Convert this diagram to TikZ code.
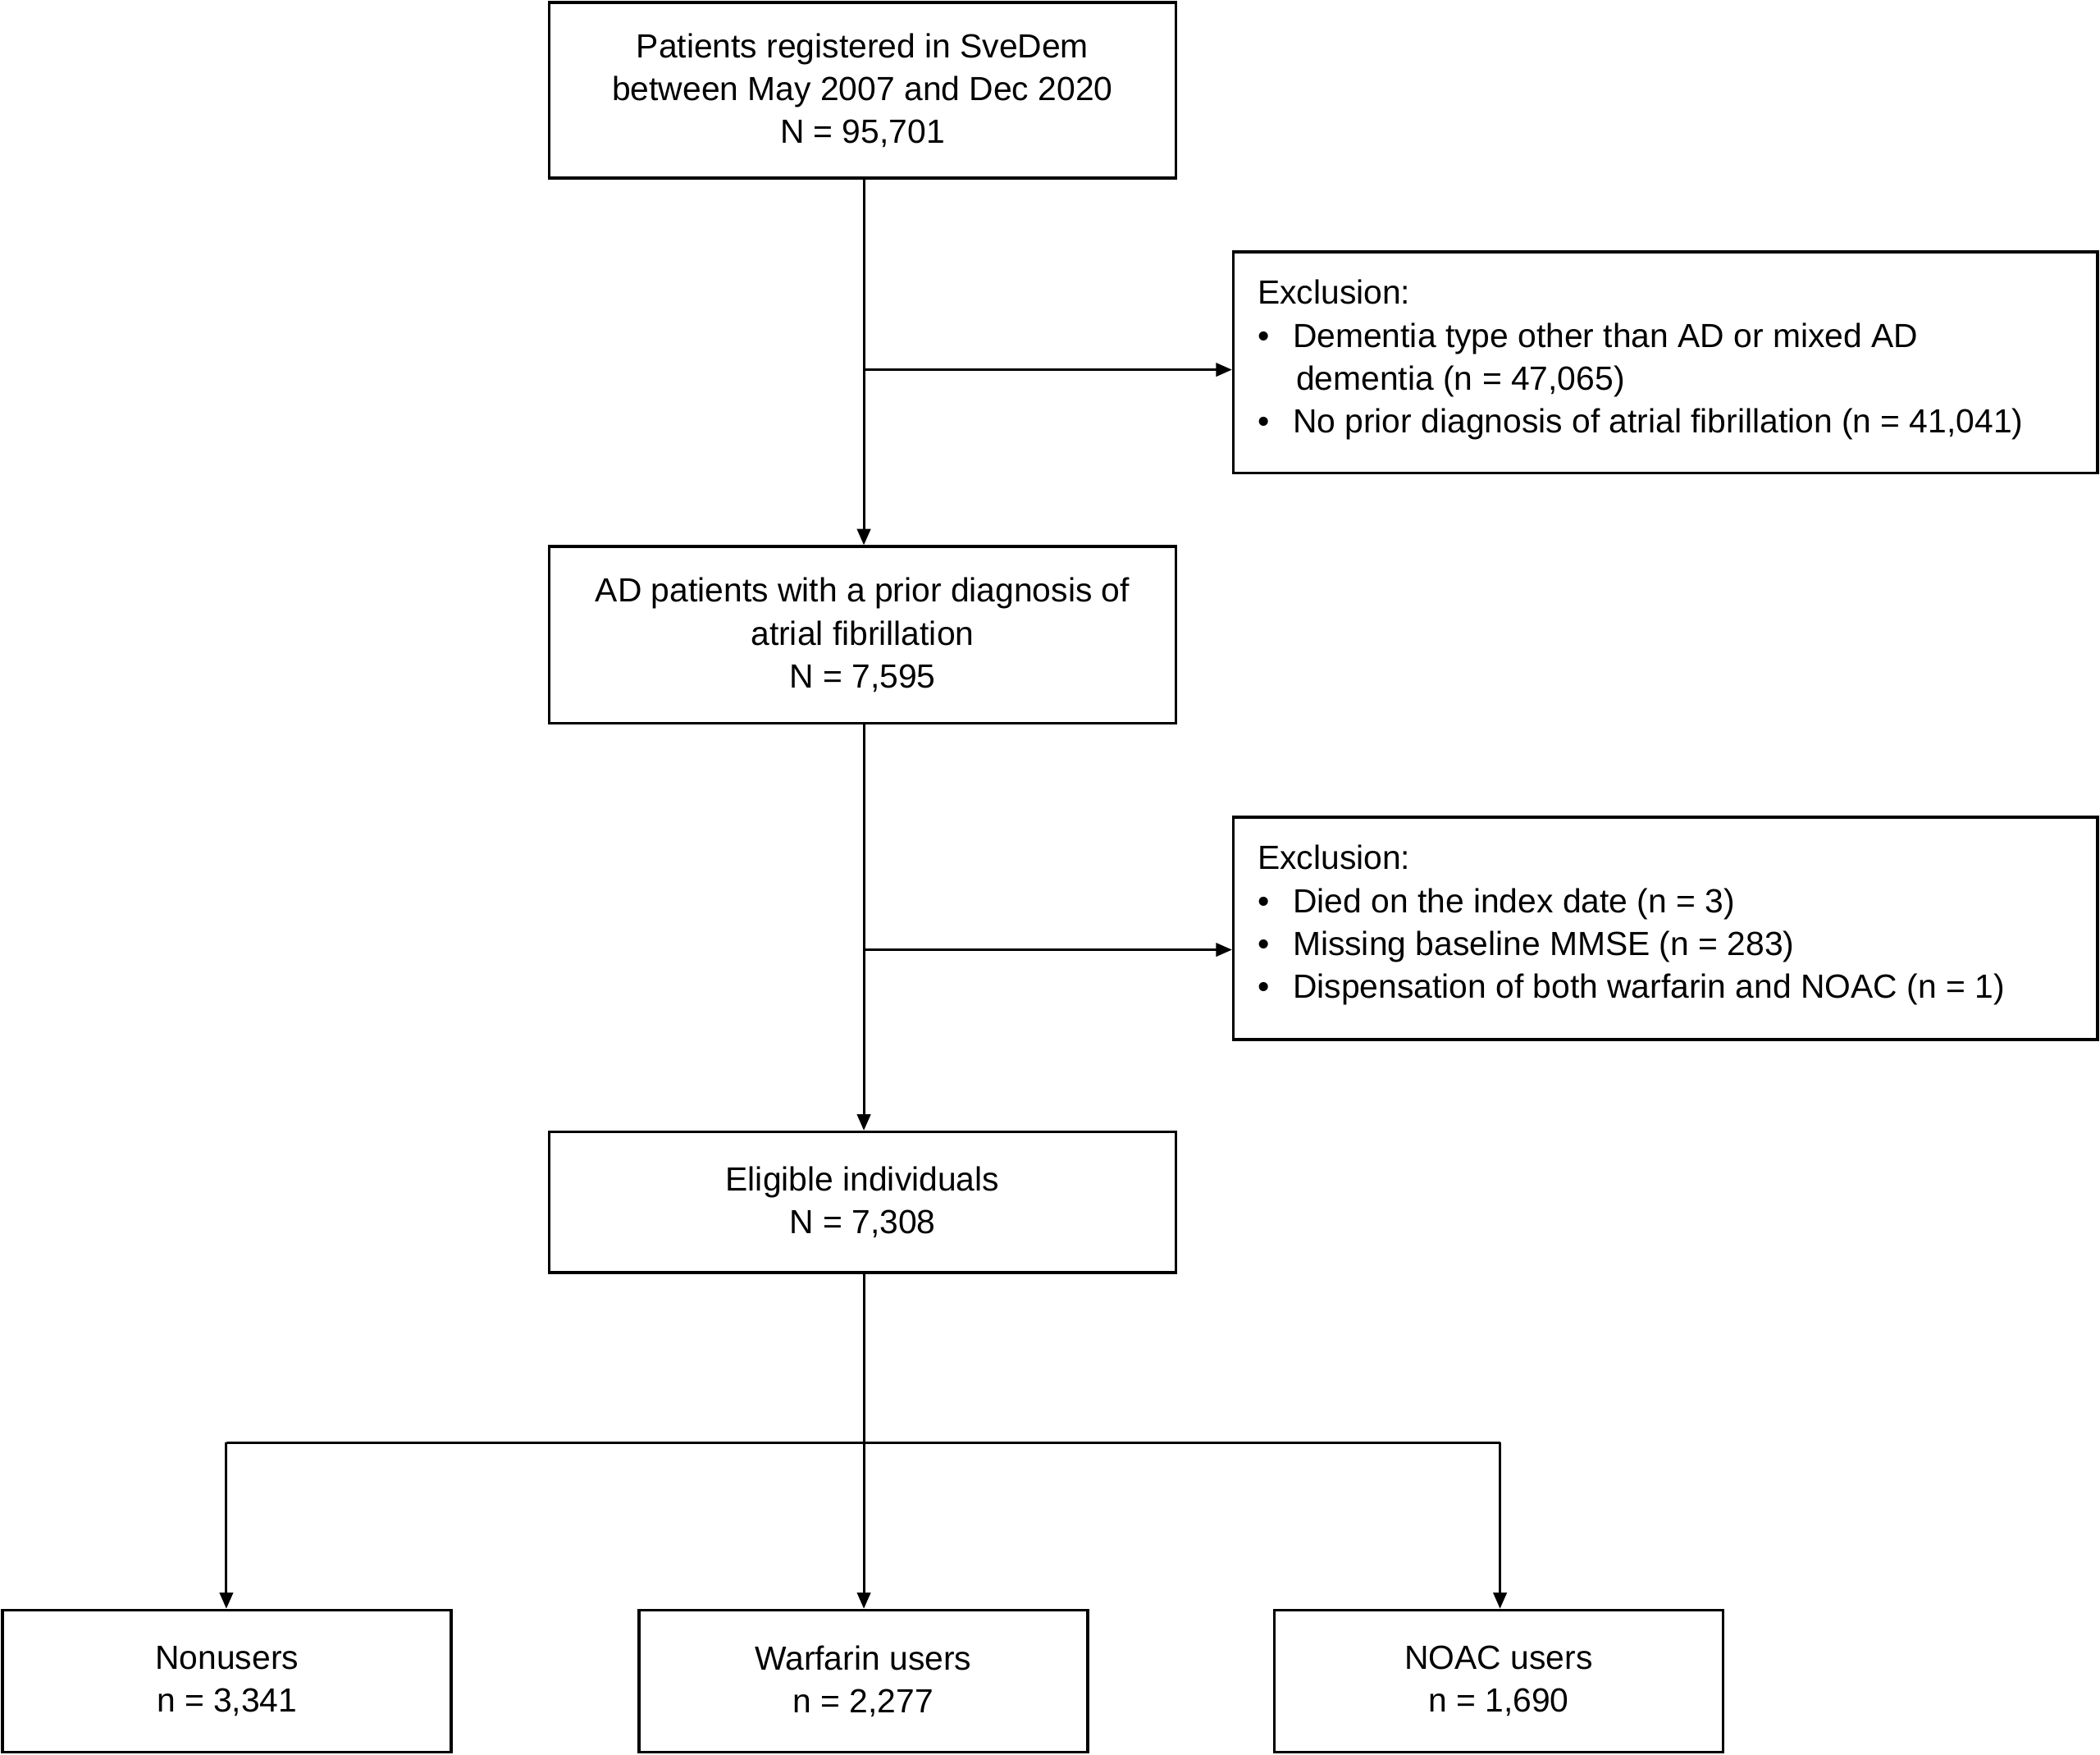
\documentclass[tikz,border=0pt]{standalone}
\usepackage{fontspec}
\setmainfont{Liberation Sans}
\usetikzlibrary{arrows.meta}
\begin{document}
\begin{tikzpicture}[x=0.5pt,y=-0.5pt,
  box/.style={draw,line width=1.1pt,inner sep=0pt,align=center,font=\fontsize{12.5}{16}\selectfont},
  ex/.style={draw,line width=1.1pt,inner sep=0pt,align=left,font=\fontsize{12.5}{16}\selectfont},
  arr/.style={line width=0.9pt,-{Triangle[length=6pt,width=5pt]}},
  ln/.style={line width=0.9pt}]
\useasboundingbox (0,0) rectangle (1568,1310);
\node[box,minimum width=234pt,minimum height=65.5pt] (a) at (644,67.5) {Patients registered in SveDem\\between May 2007 and Dec 2020\\N = 95,701};
\node[box,minimum width=234pt,minimum height=66pt] (b) at (644,474) {AD patients with a prior diagnosis of\\atrial fibrillation\\N = 7,595};
\node[box,minimum width=234pt,minimum height=52.5pt] (c) at (644,897.5) {Eligible individuals\\N = 7,308};
\node[draw,line width=1.1pt,minimum width=322.5pt,minimum height=82.5pt] (e1) at (1243.5,270.5) {};
\node[ex,draw=none,anchor=north west] (e1t) at (938,208) {Exclusion:\\%
\textbullet\hspace{0.7em}Dementia type other than AD or mixed AD\\%
\hspace{1.15em}dementia (n = 47,065)\\%
\textbullet\hspace{0.7em}No prior diagnosis of atrial fibrillation (n = 41,041)};
\node[draw,line width=1.1pt,minimum width=322.5pt,minimum height=83pt] (e2) at (1243.5,693) {};
\node[ex,draw=none,anchor=north west] (e2t) at (938,630) {Exclusion:\\%
\textbullet\hspace{0.7em}Died on the index date (n = 3)\\%
\textbullet\hspace{0.7em}Missing baseline MMSE (n = 283)\\%
\textbullet\hspace{0.7em}Dispensation of both warfarin and NOAC (n = 1)};
\node[box,minimum width=167.5pt,minimum height=53pt] (n) at (169.5,1255) {Nonusers\\n = 3,341};
\node[box,minimum width=167.5pt,minimum height=53pt] (w) at (644.5,1255) {Warfarin users\\n = 2,277};
\node[box,minimum width=167.5pt,minimum height=53pt] (o) at (1119,1255) {NOAC users\\n = 1,690};
\coordinate (j1) at (645,276);
\coordinate (j2) at (645,709);
\coordinate (s) at (645,1077);
\coordinate (sl) at (169,1077);
\coordinate (sr) at (1120,1077);
\draw[arr] (a.south -| j1) -- (b.north -| j1);
\draw[arr] (j1) -- (j1 -| e1.west);
\draw[arr] (b.south -| j2) -- (c.north -| j2);
\draw[arr] (j2) -- (j2 -| e2.west);
\draw[ln] (c.south -| s) -- (s);
\draw[ln] (sl) -- (sr);
\draw[arr] (sl) -- (sl |- n.north);
\draw[arr] (s) -- (s |- w.north);
\draw[arr] (sr) -- (sr |- o.north);
\end{tikzpicture}
\end{document}
